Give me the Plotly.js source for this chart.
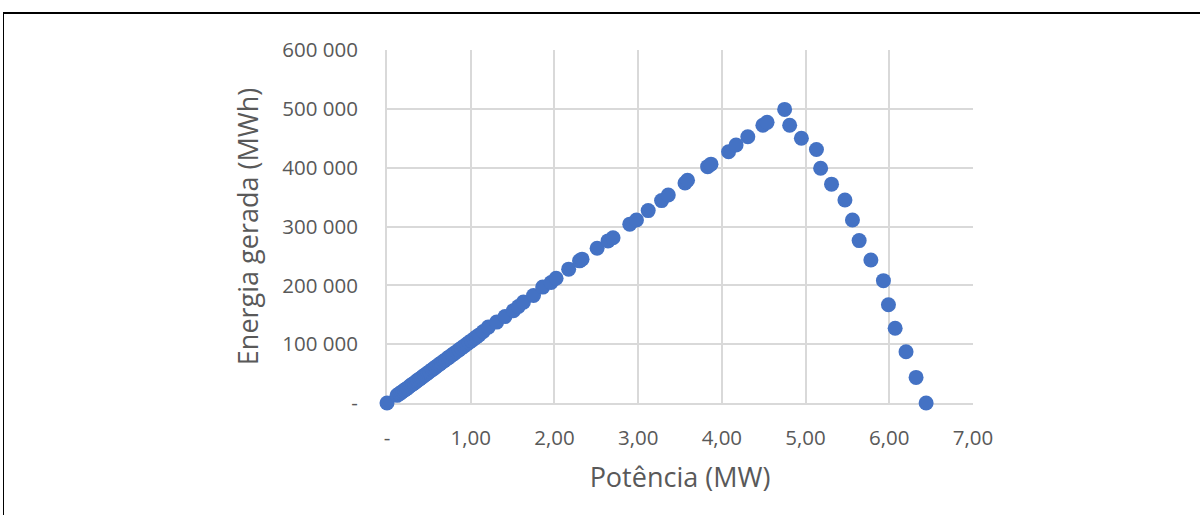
<!DOCTYPE html>
<html>
<head>
<meta charset="utf-8">
<script src="https://cdn.plot.ly/plotly-3.0.1.min.js"></script>
<style>
  html, body { margin: 0; padding: 0; background: #fff; }
  #wrap { position: relative; width: 1200px; height: 515px; overflow: hidden; }
  #chart { position: absolute; left: 0; top: 0; width: 1200px; height: 515px; }
  #frame { position: absolute; left: 3px; top: 12px; width: 1210px; height: 520px;
           border-top: 2px solid #000; border-left: 1.5px solid #000; pointer-events: none; }
</style>
</head>
<body>
<div id="wrap">
  <div id="chart"></div>
  <div id="frame"></div>
</div>
<script>
// Potência (MW)
const potencia = [
  0.00, 0.12, 0.15, 0.17, 0.19, 0.21, 0.23, 0.25, 0.27, 0.29, 0.31, 0.33, 0.35, 0.37, 0.39,
  0.41, 0.43, 0.45, 0.47, 0.49, 0.51, 0.54, 0.56, 0.58, 0.61, 0.63, 0.65, 0.68, 0.70, 0.73,
  0.75, 0.78, 0.80, 0.83, 0.86, 0.89, 0.92, 0.95, 0.98, 1.01, 1.04, 1.07, 1.10,
  1.15, 1.21, 1.31, 1.41, 1.51, 1.57, 1.63, 1.75, 1.86, 1.96, 2.02, 2.17, 2.30, 2.33,
  2.51, 2.64, 2.70, 2.90, 2.98, 3.12, 3.28, 3.36, 3.56, 3.59, 3.83, 3.87, 4.08, 4.17,
  4.31, 4.49, 4.54, 4.75,
  4.81, 4.95, 5.13, 5.18, 5.31, 5.47, 5.56, 5.64, 5.78, 5.93, 5.99, 6.07, 6.20, 6.32, 6.44
];
// Energia gerada (MWh)
const energia = [
  0, 13000, 16000, 18000, 20000, 22000, 24000, 26000, 28500, 30500, 32500, 34500, 36800, 38800, 41000,
  43000, 45200, 47300, 49300, 51500, 53600, 56700, 58800, 61000, 64100, 66200, 68300, 71500, 73500, 76700,
  78800, 82000, 84000, 87200, 90300, 93500, 96600, 99800, 103000, 106000, 109200, 112400, 115500,
  121600, 129000, 137500, 147000, 157000, 164000, 171500, 182700, 197000, 204800, 212000, 227500, 241600, 244500,
  263000, 275500, 281000, 304000, 311000, 327000, 344000, 353600, 374000, 378500, 401700, 406000, 427000, 438500,
  452600, 472000, 477000, 499000,
  472000, 450000, 431000, 399000, 372000, 345000, 311000, 276000, 243000, 208000, 167000, 127000, 87000, 43500, 0
];
const xTickVals = [0, 1, 2, 3, 4, 5, 6, 7];
const xTickText = ['-', '1,00', '2,00', '3,00', '4,00', '5,00', '6,00', '7,00'];
const yTickVals = [0, 100000, 200000, 300000, 400000, 500000, 600000];
const yTickText = ['-', '100 000', '200 000', '300 000', '400 000', '500 000', '600 000'];

const font = 'Open Sans, Lato, sans-serif';
const grey = '#595959';

Plotly.newPlot('chart', [{
  type: 'scatter',
  mode: 'markers',
  x: potencia,
  y: energia,
  cliponaxis: false,
  marker: { size: 15, color: '#4472C4', line: { width: 0 } },
  hoverinfo: 'x+y'
}], {
  width: 1200, height: 515,
  margin: { l: 387, r: 226.5, t: 50, b: 111.7, pad: 0 },
  paper_bgcolor: '#ffffff',
  plot_bgcolor: '#ffffff',
  showlegend: false,
  xaxis: {
    range: [0, 7],
    layer: 'below traces',
    tickvals: xTickVals, ticktext: xTickText,
    showgrid: true, gridcolor: '#D9D9D9', gridwidth: 2,
    zeroline: false, showline: true, linecolor: '#D9D9D9', linewidth: 2,
    ticks: '', ticklen: 0, ticklabelstandoff: 15,
    tickfont: { family: font, size: 20.5, color: grey },
    title: { text: 'Potência (MW)', font: { family: font, size: 27, color: grey }, standoff: 19 },
    fixedrange: true
  },
  yaxis: {
    range: [0, 600000],
    layer: 'below traces',
    tickvals: yTickVals, ticktext: yTickText,
    showgrid: true, gridcolor: '#D9D9D9', gridwidth: 2,
    zeroline: false, showline: true, linecolor: '#D9D9D9', linewidth: 2,
    ticks: '', ticklen: 0, ticklabelstandoff: 23,
    tickfont: { family: font, size: 20.5, color: grey },
    title: { text: 'Energia gerada (MWh)', font: { family: font, size: 27, color: grey }, standoff: 16 },
    fixedrange: true
  }
}, { displayModeBar: false, staticPlot: true });
</script>
</body>
</html>
